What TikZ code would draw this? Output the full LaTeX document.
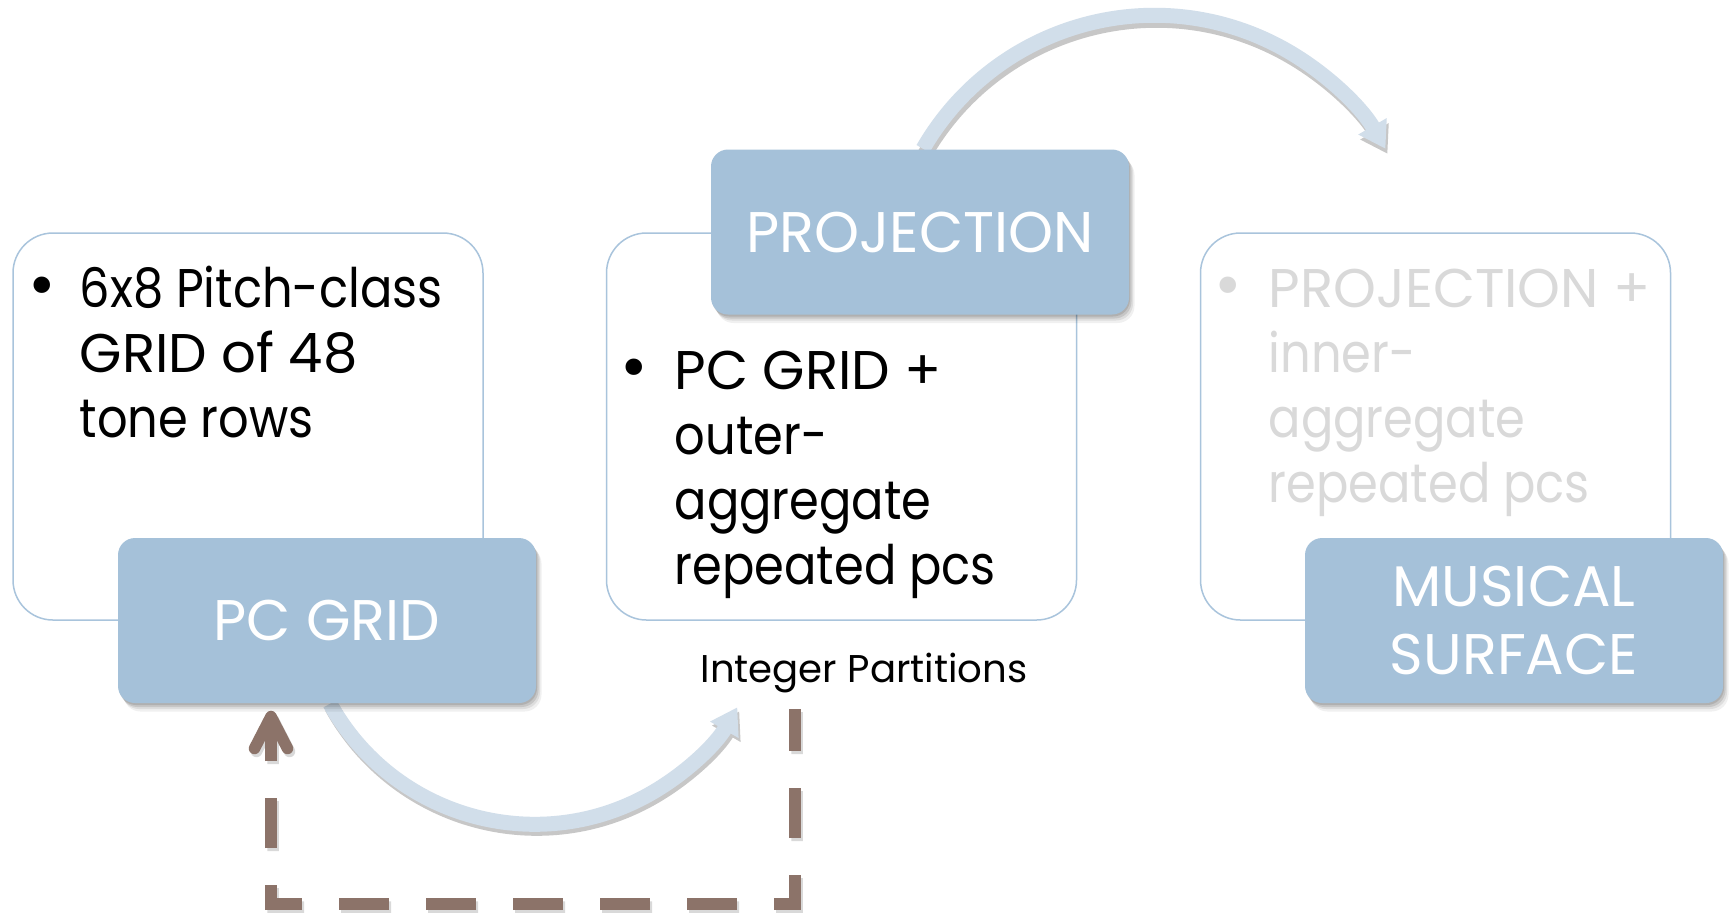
\documentclass[tikz,border=0pt]{standalone}
\usepackage{fontspec}
\setmainfont{Poppins}
\newfontfamily\narrowface{Poppins}[FakeStretch=0.88]
\usetikzlibrary{arrows.meta,calc,shadows}

\definecolor{tagblue}{HTML}{A5C1D9}
\definecolor{boxline}{HTML}{A9C4DC}
\definecolor{flowblue}{HTML}{D1DEEA}
\definecolor{fbbrown}{HTML}{8C7369}
\definecolor{fadedtext}{HTML}{D9D9D9}

\pgfdeclarelayer{bg}
\pgfdeclarelayer{links}
\pgfsetlayers{bg,links,main}

\newcommand\listfont{\fontsize{15.5}{18.5}\selectfont}
\newcommand\bulletfont{\fontsize{19}{20}\selectfont}
\newcommand\tagfont{\fontsize{16.3}{19.1}\selectfont}
\newcommand\notefont{\fontsize{11}{13}\selectfont}

\begin{document}
\begin{tikzpicture}[x=0.1mm,y=-0.1mm,
  txtbox/.style={draw=boxline, line width=0.15mm, fill=white,
    rounded corners=4mm, minimum width=47mm, minimum height=38.7mm, inner sep=0},
  softshadow/.style={
    drop shadow={shadow xshift=0.1mm, shadow yshift=-0.2mm, opacity=0.10, fill=black},
    drop shadow={shadow xshift=0.25mm, shadow yshift=-0.4mm, opacity=0.10, fill=black},
    drop shadow={shadow xshift=0.4mm, shadow yshift=-0.6mm, opacity=0.08, fill=black},
    drop shadow={shadow xshift=0.55mm, shadow yshift=-0.85mm, opacity=0.06, fill=black}},
  tagbox/.style={softshadow, fill=tagblue, rounded corners=1.7mm, minimum width=41.8mm,
    minimum height=16.5mm, inner sep=0, text=white, font=\tagfont},
  bulletmark/.style={anchor=base, inner sep=0, font=\bulletfont},
  listtext/.style={anchor=base west, inner sep=0, font=\listfont},
  flow/.style={draw=flowblue, line width=1.5mm,
    -{Triangle[width=3.1mm, length=2.6mm]}},
  flowshadow/.style={draw=black, line width=1.5mm,
    -{Triangle[width=3.1mm, length=2.6mm]}},
  feedbase/.style={line width=1.15mm,
    dash pattern=on 5.0mm off 3.7mm, dash phase=0.8mm,
    -{Straight Barb[length=3.2mm, width=3.3mm, round, line width=1.15mm]}},
  feedback/.style={feedbase, draw=fbbrown},
  feedbackshadow/.style={feedbase, draw=black}]

\begin{pgfonlayer}{bg}
  \fill[white] (0,0) rectangle (1731,913);
\end{pgfonlayer}
\useasboundingbox (0,0) rectangle (1731,913);

% text panels
\node[txtbox] (gridpanel) at (248,426.5) {};
\node[txtbox] (projpanel) at (841.5,426.5) {};
\node[txtbox] (surfpanel) at (1435.5,426.5) {};

% bullet lists
\node[bulletmark] (gridbullet) at (42,307) {\textbullet};
\node[listtext] (gridlist) at (79,307)
  {\begin{tabular}[t]{@{}l@{}}\narrowface 6x8 Pitch-class\\GRID of 48\\\narrowface tone rows\end{tabular}};

\node[bulletmark] (projbullet) at (634,389) {\textbullet};
\node[listtext] (projlist) at (674,389)
  {\begin{tabular}[t]{@{}l@{}}PC GRID +\\\narrowface outer-\\\narrowface aggregate\\\narrowface repeated pcs\end{tabular}};

\node[bulletmark, text=fadedtext] (surfbullet) at (1228,307) {\textbullet};
\node[listtext, text=fadedtext] (surflist) at (1268,307)
  {\begin{tabular}[t]{@{}l@{}}PROJECTION +\\\narrowface inner-\\\narrowface aggregate\\\narrowface repeated pcs\end{tabular}};

% stage tags
\node[tagbox] (pcgrid) at (327,620.5) {PC GRID};
\node[tagbox] (proj) at (920,232) {PROJECTION};
\node[tagbox, align=center] (surf) at (1514,620.5) {MUSICAL\\SURFACE};

\node[anchor=base, inner sep=0, font=\notefont] (partitions) at (864,682) {Integer Partitions};

% connectors
\coordinate (fbstart) at (795,709);
\coordinate (fbcorner) at (795,904);

\begin{pgfonlayer}{links}
  \begin{scope}[transparency group, opacity=0.22]
    \draw[flowshadow] ($(pcgrid.south)+(5,4)$) arc[start angle=151, end angle=30, radius=234];
    \draw[flowshadow] ($(proj.north)+(5,5)$) arc[start angle=210, end angle=330, radius=267];
  \end{scope}
  \begin{scope}[transparency group, opacity=0.15]
    \draw[feedbackshadow] ($(fbstart)+(2,3)$) -- ($(fbcorner)+(2,3)$) -| ($(pcgrid.south)+(-54,10)$);
  \end{scope}
  \draw[flow] ($(pcgrid.south)+(3,0)$) arc[start angle=151, end angle=30, radius=234];
  \draw[flow] ($(proj.north)+(3,0)$) arc[start angle=210, end angle=330, radius=267];
  \draw[feedback] (fbstart) -- (fbcorner) -| ($(pcgrid.south)+(-56,7)$);
\end{pgfonlayer}

\end{tikzpicture}
\end{document}
